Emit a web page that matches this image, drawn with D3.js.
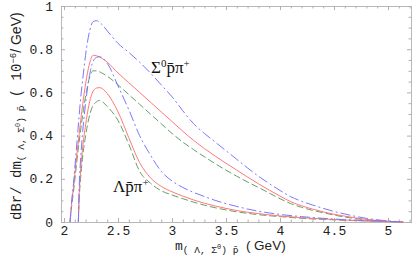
<!DOCTYPE html>
<html>
<head>
<meta charset="utf-8">
<script src="https://cdn.jsdelivr.net/npm/d3@7"></script>
<style>
  body { margin: 0; background: #fff; }
  .tick text { font-family: "Liberation Mono", monospace; font-size: 13px; fill: #222; }
  .label { font-family: "Liberation Mono", monospace; fill: #222; }
  .sans { font-family: "Liberation Sans", sans-serif; }
  .pbar { font-family: "DejaVu Sans Mono", monospace; }
  .proc { font-family: "Liberation Serif", serif; fill: #111; }
</style>
</head>
<body>
<div id="chart"></div>
<script>
"use strict";

// mass grids (GeV), one per threshold
var massLow = [2.056, 2.07, 2.09, 2.11, 2.13, 2.15, 2.18, 2.21, 2.24, 2.27, 2.3, 2.35, 2.4, 2.5, 2.6, 2.7, 2.8, 2.9, 3.0,
  3.1, 3.2, 3.3, 3.4, 3.5, 3.6, 3.7, 3.8, 3.9, 4.0, 4.1, 4.2, 4.3, 4.4, 4.5, 4.6, 4.7, 4.8, 4.9, 5.0, 5.1, 5.14];
var massHigh = [2.133, 2.14, 2.15, 2.17, 2.2, 2.23, 2.26, 2.3, 2.33, 2.4, 2.5, 2.6, 2.7, 2.8, 2.9, 3.0, 3.1, 3.2, 3.3,
  3.4, 3.5, 3.6, 3.7, 3.8, 3.9, 4.0, 4.2, 4.4, 4.6, 4.8, 5.0, 5.14];

// slow-falling set (Sigma0 pbar pi+)
var sigmaDashDot = [0, 0.09, 0.19, 0.31, 0.43, 0.55, 0.69, 0.81, 0.89, 0.928, 0.932, 0.915, 0.885, 0.827, 0.785, 0.74, 0.69,
  0.635, 0.58, 0.515, 0.455, 0.41, 0.37, 0.33, 0.29, 0.25, 0.212, 0.178, 0.146, 0.117, 0.096, 0.079, 0.063, 0.049, 0.037,
  0.026, 0.017, 0.010, 0.005, 0.0015, 0];
var sigmaSolid = [0, 0.08, 0.17, 0.27, 0.36, 0.45, 0.57, 0.67, 0.74, 0.772, 0.77, 0.758, 0.74, 0.69, 0.645, 0.60, 0.555,
  0.51, 0.465, 0.42, 0.378, 0.34, 0.305, 0.272, 0.24, 0.208, 0.177, 0.148, 0.12, 0.094, 0.075, 0.06, 0.047, 0.036, 0.027,
  0.019, 0.012, 0.007, 0.003, 0.001, 0];
var sigmaDashed = [0, 0.07, 0.15, 0.24, 0.33, 0.41, 0.52, 0.61, 0.675, 0.70, 0.70, 0.69, 0.675, 0.635, 0.59, 0.545, 0.50,
  0.455, 0.41, 0.37, 0.335, 0.302, 0.27, 0.24, 0.212, 0.185, 0.16, 0.134, 0.108, 0.085, 0.068, 0.054, 0.043, 0.032, 0.023,
  0.016, 0.010, 0.006, 0.003, 0.001, 0];

// fast-falling set (Lambda pbar pi+)
var lambdaDashDot = [0, 0.15, 0.26, 0.4, 0.55, 0.66, 0.73, 0.762, 0.765, 0.735, 0.63, 0.52, 0.40, 0.31, 0.235, 0.19, 0.16,
  0.137, 0.118, 0.1, 0.085, 0.072, 0.06, 0.05, 0.042, 0.035, 0.025, 0.017, 0.011, 0.007, 0.003, 0];
var lambdaSolid = [0, 0.12, 0.21, 0.33, 0.45, 0.54, 0.595, 0.62, 0.622, 0.595, 0.51, 0.39, 0.275, 0.205, 0.165, 0.14, 0.12,
  0.102, 0.087, 0.074, 0.063, 0.053, 0.045, 0.039, 0.033, 0.028, 0.02, 0.014, 0.009, 0.005, 0.002, 0];
var lambdaDashed = [0, 0.1, 0.18, 0.29, 0.4, 0.48, 0.53, 0.556, 0.563, 0.535, 0.47, 0.36, 0.235, 0.18, 0.145, 0.125, 0.108,
  0.092, 0.078, 0.066, 0.056, 0.047, 0.04, 0.034, 0.029, 0.025, 0.017, 0.012, 0.008, 0.005, 0.002, 0];

var xMajor = [2, 2.5, 3, 3.5, 4, 4.5, 5];
var yMajor = [0, 0.2, 0.4, 0.6, 0.8, 1];

var width = 416, height = 257;
var svg = d3.select("#chart").append("svg")
    .attr("width", width)
    .attr("height", height);

var x = d3.scaleLinear().domain([1.9722, 5.213]).range([61, 411]);
var y = d3.scaleLinear().domain([0, 1]).range([222, 6]);

var xMinor = d3.range(20, 53).map(function(d) { return d / 10; }).filter(function(d) { return xMajor.indexOf(d) < 0; });
var yMinor = d3.range(0, 21).map(function(d) { return d / 20; }).filter(function(d) { return yMajor.indexOf(+d.toFixed(2)) < 0; });

function yFmt(d) { return (d === 0 || d === 1) ? String(d) : d.toFixed(1); }

var NB = "\u00A0";

// frame
svg.append("rect")
    .attr("x", x.range()[0] + 0.5).attr("y", y.range()[1] + 0.5)
    .attr("width", x.range()[1] - x.range()[0]).attr("height", y.range()[0] - y.range()[1])
    .attr("fill", "none").attr("stroke", "#b8b8b8");

// axes, ticks pointing inward
function frameAxis(axis, tr, vals, size, fmt) {
  var g = svg.append("g").attr("transform", tr)
      .call(axis.tickValues(vals).tickSize(size).tickPadding(fmt ? 4 : 0).tickFormat(fmt || ""));
  g.select(".domain").remove();
  g.selectAll(".tick line").attr("stroke", "#b0b0b0");
  return g;
}
frameAxis(d3.axisBottom(x), "translate(0," + y.range()[0] + ")", xMajor, -4, function(d) { return String(d); });
frameAxis(d3.axisBottom(x), "translate(0," + y.range()[0] + ")", xMinor, -2.5);
frameAxis(d3.axisTop(x), "translate(0," + y.range()[1] + ")", xMajor, -4);
frameAxis(d3.axisTop(x), "translate(0," + y.range()[1] + ")", xMinor, -2.5);
frameAxis(d3.axisLeft(y), "translate(" + x.range()[0] + ",0)", yMajor, -4, yFmt)
    .selectAll("text").attr("x", -8);
frameAxis(d3.axisLeft(y), "translate(" + x.range()[0] + ",0)", yMinor, -2.5);
frameAxis(d3.axisRight(y), "translate(" + x.range()[1] + ",0)", yMajor, -4);
frameAxis(d3.axisRight(y), "translate(" + x.range()[1] + ",0)", yMinor, -2.5);

// curves
var line = d3.line()
    .x(function(d) { return x(d[0]); })
    .y(function(d) { return y(d[1]); })
    .curve(d3.curveMonotoneX);

var series = [
  {m: massLow, v: sigmaDashed, color: "rgb(100,160,100)", dash: "7,3"},
  {m: massLow, v: sigmaSolid, color: "rgb(255,120,120)", dash: null},
  {m: massLow, v: sigmaDashDot, color: "rgb(120,120,255)", dash: "10,3,2,3"},
  {m: massHigh, v: lambdaDashed, color: "rgb(100,160,100)", dash: "7,3"},
  {m: massHigh, v: lambdaSolid, color: "rgb(255,120,120)", dash: null},
  {m: massHigh, v: lambdaDashDot, color: "rgb(120,120,255)", dash: "10,3,2,3"}
];

svg.selectAll(".curve")
    .data(series)
    .enter().append("path")
    .attr("class", "curve")
    .attr("d", function(s) { return line(d3.zip(s.m, s.v)); })
    .attr("fill", "none")
    .attr("stroke", function(s) { return s.color; })
    .attr("stroke-width", 1)
    .attr("stroke-dasharray", function(s) { return s.dash; });

// process labels
var sig = svg.append("text").attr("class", "proc").attr("x", 151).attr("y", 73).attr("font-size", 17);
sig.append("tspan").text("\u03A3");
sig.append("tspan").attr("font-size", 11).attr("dy", -6).text("0");
sig.append("tspan").attr("dy", 6).text("p\u0304\u03C0");
sig.append("tspan").attr("font-size", 11).attr("dy", -6).text("+");

var lam = svg.append("text").attr("class", "proc").attr("x", 113).attr("y", 192).attr("font-size", 17);
lam.append("tspan").text("\u039Bp\u0304\u03C0");
lam.append("tspan").attr("font-size", 11).attr("dy", -6).text("+");

// axis titles
var xt = svg.append("text").attr("class", "label").attr("x", 175).attr("y", 250).attr("font-size", 13);
xt.append("tspan").text("m");
xt.append("tspan").attr("font-size", 9.5).attr("dy", 3).text("(" + NB + "\u039B," + NB + "\u03A3");
xt.append("tspan").attr("font-size", 7).attr("dy", -4).text("0");
xt.append("tspan").attr("font-size", 9.5).attr("dy", 4).text(")" + NB);
xt.append("tspan").attr("class", "pbar").attr("font-size", 9.5).text("p\u0304");
xt.append("tspan").attr("class", "sans").attr("font-size", 13.5).attr("dy", -3).text(NB + NB + "(" + NB + "GeV)");

var yt = svg.append("text").attr("class", "label")
    .attr("transform", "translate(21,220) rotate(-90)").attr("font-size", 14);
yt.append("tspan").text("dBr/" + NB + "dm");
yt.append("tspan").attr("font-size", 9.5).attr("dy", 3).text("(" + NB + "\u039B," + NB + "\u03A3");
yt.append("tspan").attr("font-size", 7).attr("dy", -4).text("0");
yt.append("tspan").attr("font-size", 9.5).attr("dy", 4).text(")" + NB);
yt.append("tspan").attr("class", "pbar").attr("font-size", 9.5).text("p\u0304");
yt.append("tspan").attr("dy", -3).text(NB + "(" + NB + "10");
yt.append("tspan").attr("font-size", 9).attr("dy", -5).text("\u22126");
yt.append("tspan").attr("class", "sans").attr("dy", 5).text("/" + NB + "GeV)");
</script>
</body>
</html>
